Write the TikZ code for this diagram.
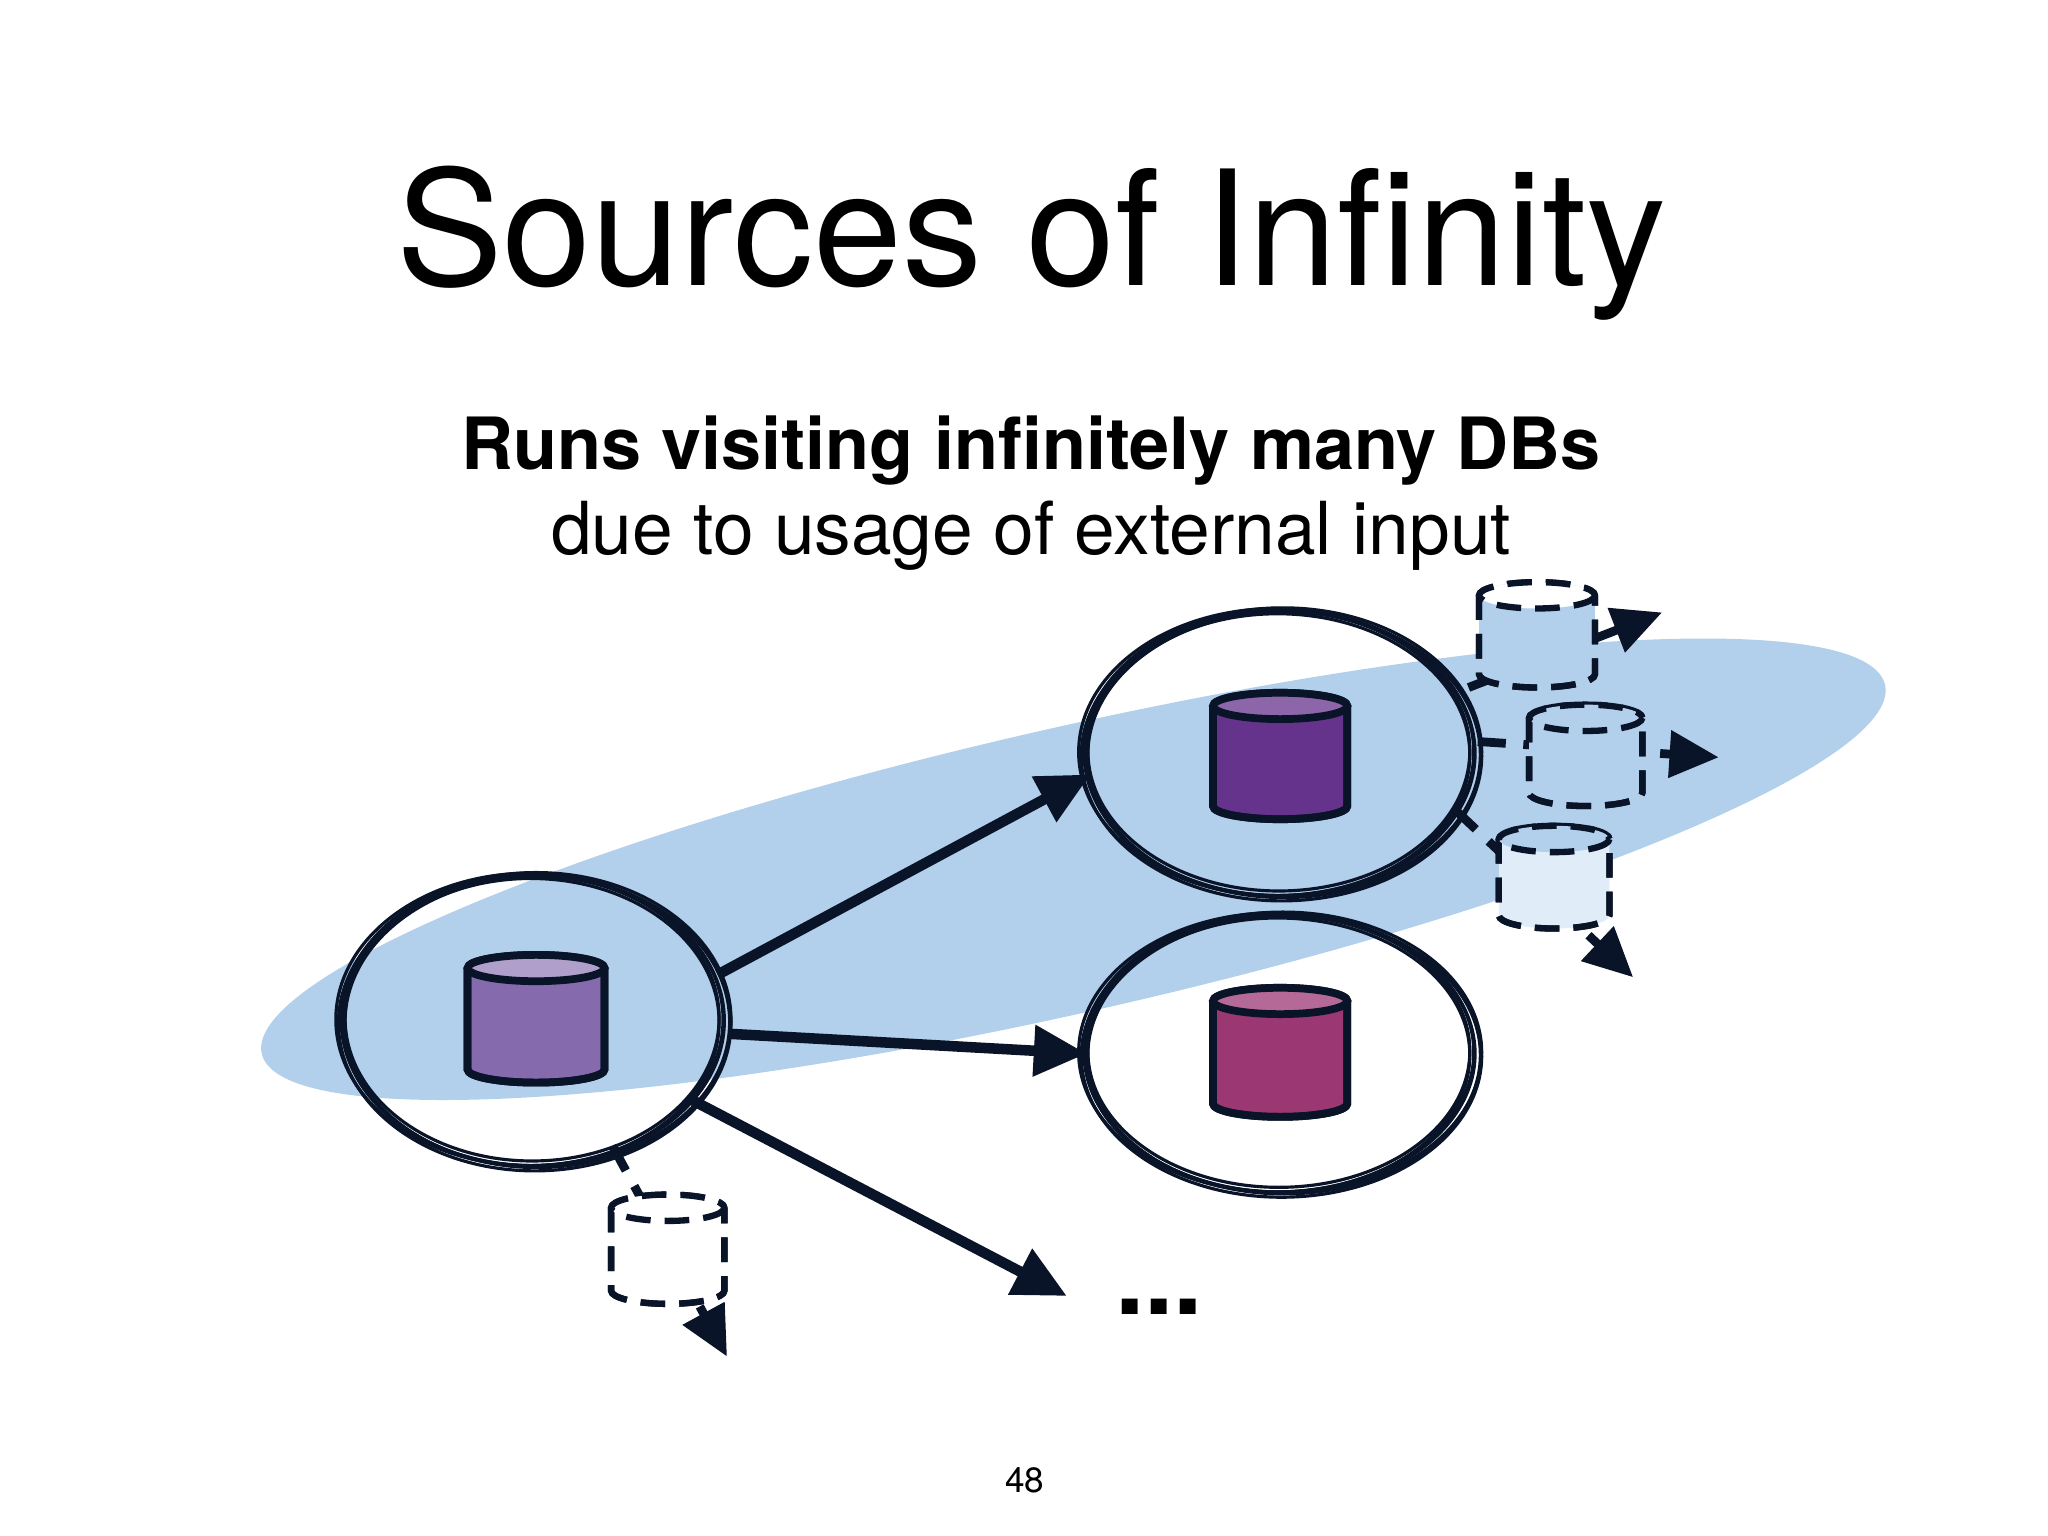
\documentclass[tikz,border=0pt]{standalone}
\usepackage{fontspec}
\setmainfont{TeX Gyre Heros}
\usetikzlibrary{arrows.meta}
\definecolor{blueish}{RGB}{178,207,235}
\definecolor{pA}{RGB}{133,107,174}
\definecolor{pB}{RGB}{102,51,140}
\definecolor{pC}{RGB}{155,55,115}
\definecolor{ink}{RGB}{10,20,40}
\newcommand\mycyl[7]{% x, top, bottom, halfwidth, fill, style, topfill
  \path[#6,fill=#5] (#1-#4,#2) -- (#1-#4,#3) arc[start angle=180,end angle=0,x radius=#4,y radius=10] -- (#1+#4,#2) arc[start angle=0,end angle=-180,x radius=#4,y radius=10];
  \draw[#6] (#1-#4,#2) -- (#1-#4,#3) arc[start angle=180,end angle=0,x radius=#4,y radius=10] -- (#1+#4,#2);
  \draw[#6,fill=#7] (#1,#2) ellipse[x radius=#4,y radius=10];
}
\begin{document}
\begin{tikzpicture}[x=0.01317cm,y=-0.01317cm,
  solidc/.style={line width=2.2pt,draw=ink},
  dashc/.style={line width=1.8pt,draw=ink,dash pattern=on 7pt off 4pt},
  arr/.style={line width=3pt,draw=ink,-{Triangle[length=15pt,width=14pt]}},
  darr/.style={line width=2.5pt,draw=ink,dash pattern=on 8pt off 5pt,-{Triangle[length=14pt,width=13pt]}},
  sketch/.style={line width=0.9pt,draw=ink}]
\useasboundingbox (0,0) rectangle (1555,1166);
\node (title) at (783,185) {\fontsize{45.5}{52}\selectfont Sources of Infinity};
\node (sub1) at (783,342) {\fontsize{20.5}{24}\selectfont\bfseries Runs visiting infinitely many DBs};
\node (sub2) at (783,407) {\fontsize{20.8}{24}\selectfont due to usage of external input};
\fill[blueish] (815,660) ellipse[x radius=632,y radius=108,rotate=12.8];
\foreach \dx/\dy/\r in {0/0/0,2/-1/3,-2/1/-2,1/2/4,-1/-2/-3,3/1/1,-3/-1/2}{
  \draw[sketch] (405+\dx,775+\dy) ellipse[x radius=145+\r,y radius=110+\r/2];
  \draw[sketch] (972+\dx,572+\dy) ellipse[x radius=148+\r,y radius=108+\r/2];
  \draw[sketch] (972+\dx,800+\dy) ellipse[x radius=148+\r,y radius=105+\r/2];
}
\mycyl{407}{735}{812}{52}{pA}{solidc}{pA!65!white}
\mycyl{972}{536}{612}{51}{pB}{solidc}{pB!75!white}
\mycyl{972}{760}{838}{51}{pC}{solidc}{pC!75!white}
\coordinate (a1) at (545,740); \coordinate (b1) at (828,588);
\coordinate (a2) at (555,785); \coordinate (b2) at (825,800);
\coordinate (a3) at (525,835); \coordinate (b3) at (810,984);
\draw[arr] (a1) -- (b1);
\draw[arr] (a2) -- (b2);
\draw[arr] (a3) -- (b3);
\node (dots) at (880,992) {\fontsize{30}{30}\selectfont\bfseries ...};
\coordinate (d1a) at (465,870); \coordinate (d1b) at (552,1030);
\coordinate (d2a) at (1115,522); \coordinate (d2b) at (1262,465);
\coordinate (d3a) at (1122,563); \coordinate (d3b) at (1305,575);
\coordinate (d4a) at (1105,615); \coordinate (d4b) at (1240,742);
\draw[darr] (d1a) -- (d1b);
\draw[darr] (d2a) -- (d2b);
\draw[darr] (d3a) -- (d3b);
\draw[darr] (d4a) -- (d4b);
\mycyl{507}{917}{980}{43}{white}{dashc}{white}
\mycyl{1167}{452}{512}{44}{blueish}{dashc}{white}
\mycyl{1204}{545}{602}{43}{blueish}{dashc}{blueish}
\mycyl{1180}{637}{695}{42}{blueish!40!white}{dashc}{blueish}
\node (pg) at (778,1124) {\fontsize{10}{12}\selectfont 48};
\end{tikzpicture}
\end{document}
